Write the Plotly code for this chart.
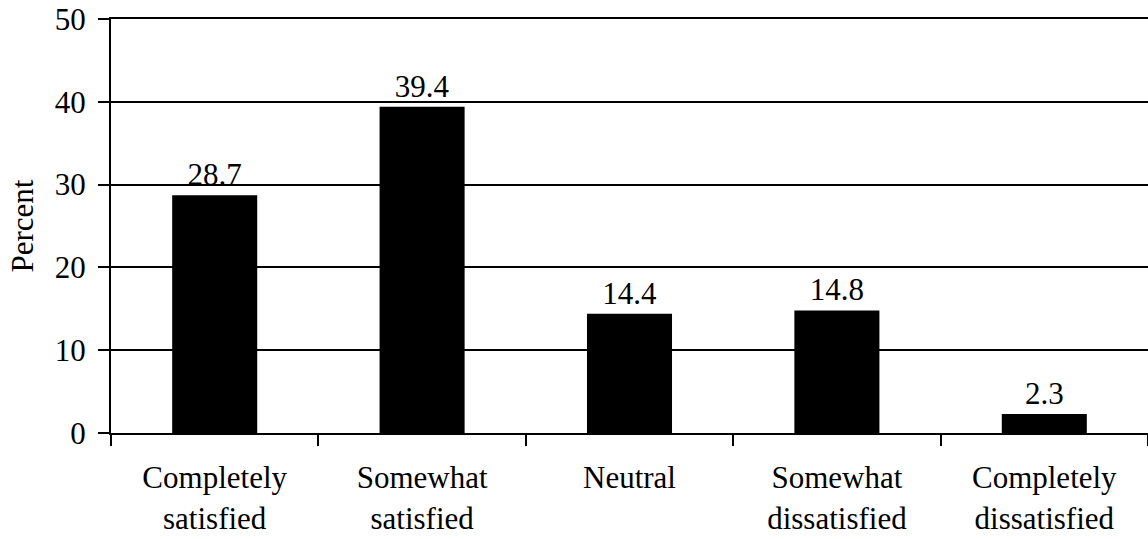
import plotly.graph_objects as go

categories = ["Completely<br>satisfied", "Somewhat<br>satisfied", "Neutral",
              "Somewhat<br>dissatisfied", "Completely<br>dissatisfied"]
percent = [28.7, 39.4, 14.4, 14.8, 2.3]
y_ticks = [0, 10, 20, 30, 40, 50]

font = dict(family="Liberation Serif", size=31, color="black")

fig = go.Figure(go.Bar(
    x=categories, y=percent,
    marker=dict(color="black", line=dict(width=0)),
    width=0.41,
    text=[f"{v:.1f}" for v in percent],
    textposition="outside",
    textfont=font,
    constraintext="none",
    cliponaxis=False,
))

fig.update_layout(
    width=1148, height=539,
    margin=dict(l=111, r=0, t=19, b=106),
    plot_bgcolor="white", paper_bgcolor="white",
    font=font,
    showlegend=False,
)
fig.update_xaxes(
    showline=True, mirror=True, linecolor="black", linewidth=2,
    ticks="outside", tickson="boundaries", ticklen=11, tickwidth=2, tickcolor="black",
    showgrid=False, tickfont=font, ticklabelstandoff=16,
)
fig.update_yaxes(
    range=[0, 50], tickvals=y_ticks,
    showline=True, linecolor="black", linewidth=2,
    ticks="outside", ticklen=11, tickwidth=2, tickcolor="black",
    showgrid=True, gridcolor="black", gridwidth=1.5,
    zeroline=False, tickfont=font, ticklabelstandoff=6,
    title=dict(text="Percent", font=font, standoff=12),
)

# the page body has a default 8px margin; drop it so the chart fills the window
fig.write_html("out.html", config={"displayModeBar": False},
               post_script="document.body.style.margin='0px';")
